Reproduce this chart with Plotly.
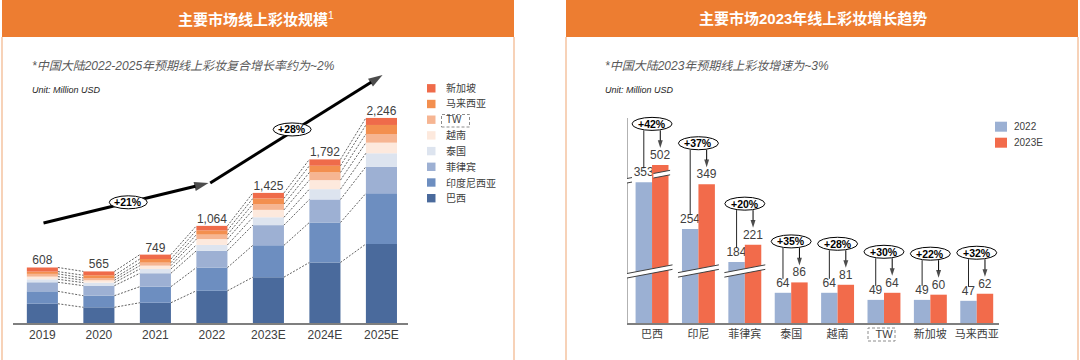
import plotly.graph_objects as go
import numpy as np

# ---------------- data ----------------
years = ["2019", "2020", "2021", "2022", "2023E", "2024E", "2025E"]
stack_names = ["巴西", "印度尼西亚", "菲律宾", "泰国", "越南", "TW", "马来西亚", "新加坡"]
brazil = [211, 172, 222, 353, 502, 663, 865]
indonesia = [136, 127, 176, 254, 349, 438, 555]
philippines = [99, 110, 147, 184, 221, 252, 292]
thailand = [33, 33, 47, 64, 86, 113, 147]
vietnam = [29, 26, 36, 64, 81, 99, 116]
taiwan = [30, 25, 33, 49, 64, 84, 95]
malaysia = [25, 30, 40, 47, 62, 73, 99]
singapore = [45, 42, 48, 49, 60, 70, 77]
totals = [608, 565, 749, 1064, 1425, 1792, 2246]
cagr_labels = ["+21%", "+28%"]

countries = ["巴西", "印尼", "菲律宾", "泰国", "越南", "TW", "新加坡", "马来西亚"]
v2022 = [353, 254, 184, 64, 64, 49, 49, 47]
v2023 = [502, 349, 221, 86, 81, 64, 60, 62]
growth = ["+42%", "+37%", "+20%", "+35%", "+28%", "+30%", "+22%", "+32%"]
series_names = ["2022", "2023E"]

# ---------------- styles ----------------
W, H = 1080, 360
FONT = "Liberation Sans, Arial, Noto Sans CJK SC, sans-serif"
ORANGE = "#ED7D31"
PEACH = "#F5C3A0"
TXT = "#404040"
stack_colors = ["#4A6A9C", "#6D8EC0", "#9DB0D3", "#DDE4EF", "#FDE9DD", "#F6B592", "#F38F4F", "#EF6B4A"]
c2022, c2023 = "#9BB0D3", "#F26B4B"


def PX(x):
    return x / W


def PY(y):
    return 1 - y / H


# left plot geometry
L_X0, L_X1, L_BASE, L_TOP = 13, 408, 323, 60
L_RANGE_X = [-0.52, 6.47]
L_SCALE = 0.0913  # px per unit
L_RANGE_Y = [0, (L_BASE - L_TOP) / L_SCALE]
L_BAR_W = 0.55

# right plot geometry
R_X0, R_X1, R_BASE, R_TOP = 627, 999, 323, 100
R_RANGE_X = [-0.54, 7.48]
R_SCALE = 0.472
R_RANGE_Y = [0, (R_BASE - R_TOP) / R_SCALE]
R_BAR_W = 0.355
R_XPX = (R_X1 - R_X0) / (R_RANGE_X[1] - R_RANGE_X[0])  # px per category unit

# axis-break mapping for the right chart
BREAK1_AT, BREAK1_CUT = 110, 55
BREAK2_AT, BREAK2_CUT = 400, 112


def shown(v):
    d = v
    if v > BREAK1_AT:
        d -= BREAK1_CUT
    if v > BREAK2_AT:
        d -= BREAK2_CUT
    return d


fig = go.Figure()

# ---------------- left: stacked bars ----------------
segs = [brazil, indonesia, philippines, thailand, vietnam, taiwan, malaysia, singapore]
segs_arr = np.array(segs, dtype=float)
cum = np.cumsum(segs_arr, axis=0)
bases = cum - segs_arr
xi = np.arange(len(years))

for k, name in enumerate(stack_names):
    fig.add_trace(go.Bar(
        x=xi, y=segs_arr[k], base=bases[k], width=L_BAR_W, name=name,
        marker=dict(color=stack_colors[k], line=dict(width=0)),
        xaxis="x", yaxis="y", showlegend=False, hoverinfo="skip"))

# dashed connectors
for k in range(len(stack_names)):
    xs, ys = [], []
    for i in range(len(years) - 1):
        xs += [i + L_BAR_W / 2, i + 1 - L_BAR_W / 2, None]
        ys += [cum[k][i], cum[k][i + 1], None]
    fig.add_trace(go.Scatter(x=xs, y=ys, mode="lines", xaxis="x", yaxis="y",
                             line=dict(color="#3a3a3a", width=0.8, dash="2px,1.5px"),
                             showlegend=False, hoverinfo="skip"))

# total labels
fig.add_trace(go.Scatter(x=xi, y=totals, mode="text",
                         text=[f"{t:,}" for t in totals], textposition="top center",
                         textfont=dict(size=12, color=TXT, family=FONT),
                         xaxis="x", yaxis="y", showlegend=False, hoverinfo="skip"))

# CAGR trend arrows (line + arrow-head marker)
arrows_l = [((0.02, 1095), (2.94, 1533)), ((2.97, 1533), (6.02, 2716))]
for (t, h) in arrows_l:
    fig.add_trace(go.Scatter(
        x=[t[0], h[0]], y=[t[1], h[1]], mode="lines+markers", xaxis="x", yaxis="y",
        line=dict(color="black", width=3),
        marker=dict(symbol="arrow", size=[0, 15], angleref="previous", color="black",
                    line=dict(width=0)),
        cliponaxis=False, showlegend=False, hoverinfo="skip"))

# ---------------- right: grouped bars ----------------
ci = np.arange(len(countries))
fig.add_trace(go.Bar(
    x=ci, y=[shown(v) for v in v2022], width=R_BAR_W, offset=-R_BAR_W, name=series_names[0],
    marker=dict(color=c2022, line=dict(width=0)), text=[str(v) for v in v2022],
    textposition="outside", constraintext="none", cliponaxis=False,
    textfont=dict(size=12, color=TXT, family=FONT),
    xaxis="x2", yaxis="y2", showlegend=False, hoverinfo="skip"))
fig.add_trace(go.Bar(
    x=ci, y=[shown(v) for v in v2023], width=R_BAR_W, offset=0, name=series_names[1],
    marker=dict(color=c2023, line=dict(width=0)), text=[str(v) for v in v2023],
    textposition="outside", constraintext="none", cliponaxis=False,
    textfont=dict(size=12, color=TXT, family=FONT),
    xaxis="x2", yaxis="y2", showlegend=False, hoverinfo="skip"))

# growth arrows (ellipse -> 2023E label)
for i in range(len(countries)):
    d23 = shown(v2023[i])
    yc = d23 + 41 / R_SCALE
    xa = i + R_BAR_W / 2
    fig.add_trace(go.Scatter(
        x=[xa, xa], y=[yc - 6.5 / R_SCALE, d23 + 17 / R_SCALE], mode="lines+markers",
        xaxis="x2", yaxis="y2", line=dict(color="black", width=1),
        marker=dict(symbol="arrow", size=[0, 8], angleref="previous", color="black",
                    line=dict(width=0)),
        cliponaxis=False, showlegend=False, hoverinfo="skip"))

shapes = []
annotations = []

# ---------------- panels ----------------
for (x0, x1) in [(2, 514), (566, 1078)]:
    shapes.append(dict(type="rect", xref="paper", yref="paper", x0=PX(x0), x1=PX(x1),
                       y0=PY(37), y1=PY(0), fillcolor=ORANGE, line=dict(width=0), layer="below"))
    for xx in (x0, x1):
        shapes.append(dict(type="line", xref="paper", yref="paper", x0=PX(xx), x1=PX(xx),
                           y0=PY(37), y1=PY(360), line=dict(color=PEACH, width=1.5)))

annotations.append(dict(xref="paper", yref="paper", x=PX(256), y=PY(18.5), showarrow=False,
                        xanchor="center", yanchor="middle",
                        text="<b>主要市场线上彩妆规模</b><sup>1</sup>",
                        font=dict(size=15, color="white", family=FONT)))
annotations.append(dict(xref="paper", yref="paper", x=PX(813), y=PY(18.5), showarrow=False,
                        xanchor="center", yanchor="middle",
                        text="<b>主要市场2023年线上彩妆增长趋势</b>",
                        font=dict(size=15, color="white", family=FONT)))

for xs, sub in [(30, "*中国大陆2022-2025年预期线上彩妆复合增长率约为~2%"),
                (603, "*中国大陆2023年预期线上彩妆增速为~3%")]:
    annotations.append(dict(xref="paper", yref="paper", x=PX(xs), y=PY(65.5), xanchor="left",
                            yanchor="middle", showarrow=False, text=f"<i>{sub}</i>",
                            font=dict(size=12, color="#595959", family=FONT)))
    annotations.append(dict(xref="paper", yref="paper", x=PX(xs), y=PY(90), xanchor="left",
                            yanchor="middle", showarrow=False, text="<i>Unit: Million USD</i>",
                            font=dict(size=9, color="#262626", family=FONT)))

# ---------------- left legend ----------------
for j, k in enumerate(range(len(stack_names) - 1, -1, -1)):
    yc = 88.3 + 15.7 * j
    shapes.append(dict(type="rect", xref="paper", yref="paper", x0=PX(427), x1=PX(435.5),
                       y0=PY(yc + 4.2), y1=PY(yc - 4.2), fillcolor=stack_colors[k], line=dict(width=0)))
    annotations.append(dict(xref="paper", yref="paper", x=PX(444), y=PY(yc), xanchor="left",
                            yanchor="middle", showarrow=False, text=stack_names[k],
                            font=dict(size=10, color=TXT, family=FONT)))
# dashed box round TW (legend)
shapes.append(dict(type="rect", xref="paper", yref="paper", x0=PX(441.5), x1=PX(469.5),
                   y0=PY(127), y1=PY(114.5), line=dict(color="#8c8c8c", width=1, dash="3px,2px")))

# ---------------- left CAGR ellipses ----------------
ell_l = [(1.52, 1322), (4.42, 2120)]
for lab, (ex, ey) in zip(cagr_labels, ell_l):
    shapes.append(dict(type="circle", xref="x", yref="y", xsizemode="pixel", ysizemode="pixel",
                       xanchor=ex, yanchor=ey, x0=-19, x1=19, y0=-6.5, y1=6.5,
                       fillcolor="white", line=dict(color="black", width=1), layer="above"))
    annotations.append(dict(xref="x", yref="y", x=ex, y=ey, text=f"<b>{lab}</b>", showarrow=False,
                            font=dict(size=10.5, color="black", family=FONT)))

# ---------------- right chart decorations ----------------
# vertical axis line
shapes.append(dict(type="line", xref="x2", yref="y2", x0=R_RANGE_X[0], x1=R_RANGE_X[0],
                   y0=0, y1=(R_BASE - 118) / R_SCALE, line=dict(color="#7f7f7f", width=1.2)))


def brk(xa, xb, ymid_units, xmid):
    """axis break mark: white band with two slanted lines (pixel sizes converted to units)"""
    slope = 0.19  # px rise per px
    gap = 4.5 / R_SCALE

    def yat(x):
        return ymid_units + (x - xmid) * R_XPX * slope / R_SCALE
    ya, yb = yat(xa), yat(xb)
    path = (f"M {xa},{ya - gap/2} L {xb},{yb - gap/2} L {xb},{yb + gap/2} "
            f"L {xa},{ya + gap/2} Z")
    shapes.append(dict(type="path", xref="x2", yref="y2", path=path, fillcolor="white",
                       line=dict(width=0), layer="above"))
    for s in (-1, 1):
        shapes.append(dict(type="line", xref="x2", yref="y2", x0=xa, x1=xb,
                           y0=ya + s * gap / 2, y1=yb + s * gap / 2,
                           line=dict(color="#404040", width=1), layer="above"))


ext = 4 / R_XPX
low_break = (R_BASE - 271) / R_SCALE
for i in range(len(countries)):
    if v2022[i] > BREAK1_AT:
        xa = i - R_BAR_W - ext
        if i == 0:
            xa = R_RANGE_X[0] - 5 / R_XPX
        brk(xa, i + R_BAR_W + ext, low_break, i)
    if v2023[i] > BREAK2_AT:
        up = (R_BASE - 176) / R_SCALE
        brk(R_RANGE_X[0] - 5 / R_XPX, R_RANGE_X[0] + 5 / R_XPX, up, i)
        brk(i + 0.03, i + R_BAR_W + ext * 0.4, up, i)

# growth ellipses and lines to the 2022 labels
for i in range(len(countries)):
    d22, d23 = shown(v2022[i]), shown(v2023[i])
    yc = d23 + 41 / R_SCALE
    shapes.append(dict(type="line", xref="x2", yref="y2", x0=i - R_BAR_W / 2, x1=i - R_BAR_W / 2,
                       y0=yc - 6.5 / R_SCALE, y1=d22 + 14 / R_SCALE,
                       line=dict(color="#262626", width=1)))
    shapes.append(dict(type="circle", xref="x2", yref="y2", xsizemode="pixel", ysizemode="pixel",
                       xanchor=i, yanchor=yc, x0=-20, x1=20, y0=-6.5, y1=6.5,
                       fillcolor="white", line=dict(color="black", width=1), layer="above"))
    annotations.append(dict(xref="x2", yref="y2", x=i, y=yc, text=f"<b>{growth[i]}</b>",
                            showarrow=False, font=dict(size=10.5, color="black", family=FONT)))

# right legend
for j, (nm, col) in enumerate(zip(series_names, [c2022, c2023])):
    yc = 126.7 + 16 * j
    shapes.append(dict(type="rect", xref="paper", yref="paper", x0=PX(995), x1=PX(1007),
                       y0=PY(yc + 5), y1=PY(yc - 5), fillcolor=col, line=dict(width=0)))
    annotations.append(dict(xref="paper", yref="paper", x=PX(1012), y=PY(yc), xanchor="left",
                            yanchor="middle", showarrow=False, text=nm,
                            font=dict(size=10, color=TXT, family=FONT)))

# dashed box round TW (axis label)
shapes.append(dict(type="rect", xref="paper", yref="paper", x0=PX(868), x1=PX(895),
                   y0=PY(341), y1=PY(328), line=dict(color="#8c8c8c", width=1, dash="3px,2px")))

fig.update_layout(
    width=W, height=H, margin=dict(l=0, r=0, t=0, b=0),
    paper_bgcolor="white", plot_bgcolor="white", barmode="overlay",
    font=dict(family=FONT, color=TXT),
    showlegend=False,
    xaxis=dict(domain=[PX(L_X0), PX(L_X1)], range=L_RANGE_X, tickvals=list(xi), ticktext=years,
               showgrid=False, zeroline=False, showline=True, linecolor="#7f7f7f", linewidth=1.5,
               ticks="", tickfont=dict(size=12, color=TXT, family=FONT), fixedrange=True),
    yaxis=dict(domain=[PY(L_BASE), PY(L_TOP)], range=L_RANGE_Y, visible=False, fixedrange=True),
    xaxis2=dict(domain=[PX(R_X0), PX(R_X1)], range=R_RANGE_X, tickvals=list(ci), ticktext=countries,
                showgrid=False, zeroline=False, showline=True, linecolor="#7f7f7f", linewidth=1.5,
                ticks="", tickfont=dict(size=11, color=TXT, family=FONT), anchor="y2", fixedrange=True),
    yaxis2=dict(domain=[PY(R_BASE), PY(R_TOP)], range=R_RANGE_Y, visible=False, anchor="x2",
                fixedrange=True),
    shapes=shapes, annotations=annotations,
)

fig.write_html("out.html", config={"displayModeBar": False},
               post_script="document.body.style.margin='0';document.body.style.overflow='hidden';")
